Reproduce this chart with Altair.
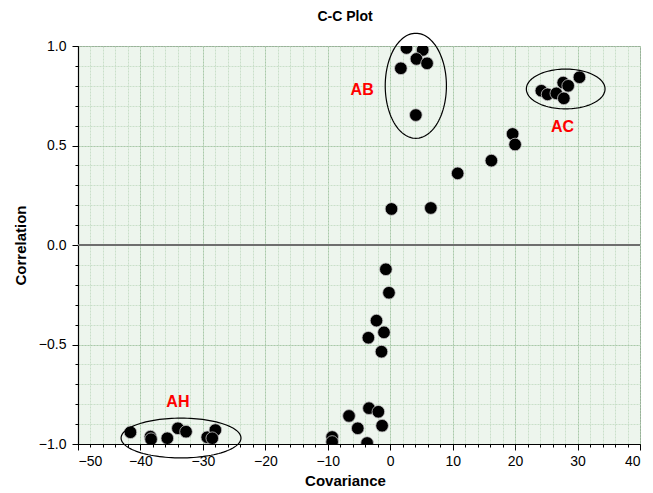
import altair as alt
import numpy as np
import pandas as pd

# ---- data ----
chart_title = ["C-C Plot"]
covariance = [2.6, 5.2, 4.2, 5.9, 1.7, 4.1,
              24.2, 25.2, 26.6, 27.8, 27.7, 28.5, 30.3,
              0.2, 6.5, 10.8, 16.2, 19.6, 20.0,
              -0.7, -0.2, -2.2, -1.0, -3.5, -1.4,
              -9.3, -9.3, -6.6, -5.2, -3.4, -1.9, -1.3, -3.7,
              -41.6, -38.4, -38.3, -35.7, -34.0, -32.7, -29.3, -28.0, -28.5]
correlation = [0.99, 0.98, 0.935, 0.913, 0.888, 0.653,
               0.775, 0.757, 0.762, 0.737, 0.816, 0.80, 0.843,
               0.181, 0.186, 0.36, 0.424, 0.558, 0.505,
               -0.122, -0.24, -0.38, -0.439, -0.466, -0.536,
               -0.965, -0.99, -0.859, -0.921, -0.82, -0.838, -0.908, -0.995,
               -0.941, -0.963, -0.976, -0.971, -0.921, -0.938, -0.966, -0.93, -0.971]

group_names = ["AB", "AC", "AH"]
group_cx = [4.1, 28.1, -33.5]
group_cy = [0.80, 0.784, -0.97]
group_rx = [4.9, 6.3, 9.6]
group_ry = [0.264, 0.10, 0.10]
label_x = [-4.5, 27.6, -34.0]
label_y = [0.78, 0.593, -0.79]

x_major = list(range(-50, 41, 10))
x_minor = list(range(-50, 41, 2))
y_major = [-1.0, -0.5, 0.0, 0.5, 1.0]
y_minor = [round(-1.0 + 0.1 * i, 1) for i in range(21)]

# ---- tables ----
pts = pd.DataFrame({"cov": covariance, "corr": correlation})
t = np.linspace(0, 2 * np.pi, 121)
ell_rows = []
for n, cx, cy, rx, ry in zip(group_names, group_cx, group_cy, group_rx, group_ry):
    for i, a in enumerate(t):
        ell_rows.append({"g": n, "i": i, "cov": cx + rx * np.cos(a), "corr": cy + ry * np.sin(a)})
ell = pd.DataFrame(ell_rows)
labels = pd.DataFrame({"name": group_names, "cov": label_x, "corr": label_y})
title_df = pd.DataFrame({"t": chart_title})

FONT = "Liberation Sans"
W, H = 562, 398
xscale = alt.Scale(domain=[-50, 40], nice=False, zero=False)
yscale = alt.Scale(domain=[-1, 1], nice=False, zero=False)

# minor grid + minor ticks
minor = alt.Chart(pts).mark_point(opacity=0).encode(
    x=alt.X("cov:Q", scale=xscale, axis=alt.Axis(
        orient="bottom", values=x_minor, labels=False, title=None, domain=False,
        tickSize=3, tickColor="#000000", grid=True, gridColor="#c9dfc9",
        gridDash=[2, 1], gridWidth=1)),
    y=alt.Y("corr:Q", scale=yscale, axis=alt.Axis(
        orient="left", values=y_minor, labels=False, title=None, domain=False,
        tickSize=3, tickColor="#000000", grid=True, gridColor="#c9dfc9",
        gridDash=[2, 1], gridWidth=1)),
)

# major grid, ticks, labels
major = alt.Chart(pts).mark_point(opacity=0).encode(
    x=alt.X("cov:Q", scale=xscale, axis=alt.Axis(
        orient="bottom", values=x_major, format="d", title="Covariance",
        domain=True, domainColor="#000000", domainWidth=1.2,
        tickSize=6, tickColor="#000000", labelPadding=4,
        labelFont=FONT, labelFontSize=14, labelColor="#000000",
        titleFont=FONT, titleFontSize=15, titleFontWeight="bold", titleColor="#000000",
        titlePadding=5, titleX=267,
        grid=True, gridColor="#a9c9a9", gridDash=[2, 1], gridWidth=1)),
    y=alt.Y("corr:Q", scale=yscale, axis=alt.Axis(
        orient="left", values=y_major, format=".1f", title="Correlation",
        domain=True, domainColor="#000000", domainWidth=1.2,
        tickSize=6, tickColor="#000000", labelPadding=6,
        labelFont=FONT, labelFontSize=14, labelColor="#000000",
        titleFont=FONT, titleFontSize=15, titleFontWeight="bold", titleColor="#000000",
        titlePadding=10,
        grid=True, gridColor="#a9c9a9", gridDash=[2, 1], gridWidth=1)),
)

zero_line = alt.Chart(pts).mark_rule(color="#6f6f6f", strokeWidth=1.2).encode(
    y=alt.YDatum(0, scale=yscale, axis=None)
)

dots = alt.Chart(pts).mark_circle(
    size=160, color="#000000", opacity=1, stroke="#c8c8c8", strokeWidth=0.8, clip=True
).encode(
    x=alt.X("cov:Q", scale=xscale, axis=None),
    y=alt.Y("corr:Q", scale=yscale, axis=None),
)

ellipses = alt.Chart(ell).mark_line(color="#000000", strokeWidth=1.2, clip=False).encode(
    x=alt.X("cov:Q", scale=xscale, axis=None),
    y=alt.Y("corr:Q", scale=yscale, axis=None),
    detail="g:N",
    order="i:Q",
)

texts = alt.Chart(labels).mark_text(
    color="#ff0000", font=FONT, fontSize=16, fontWeight="bold"
).encode(
    x=alt.X("cov:Q", scale=xscale, axis=None),
    y=alt.Y("corr:Q", scale=yscale, axis=None),
    text="name:N",
)

title_mark = alt.Chart(title_df).mark_text(
    font=FONT, fontSize=14, fontWeight="bold", color="#000000",
    baseline="middle", align="center", clip=False
).encode(
    x=alt.value(267), y=alt.value(-29), text="t:N"
)

chart = alt.layer(minor, major, zero_line, dots, ellipses, texts, title_mark).resolve_axis(
    x="independent", y="independent"
).properties(
    width=W,
    height=H,
    padding={"left": 70, "top": 38, "right": 5, "bottom": 46},
    autosize=alt.AutoSizeParams(type="none"),
).configure_view(
    fill="#edf5ed", stroke="#555555", strokeWidth=1
)

chart.save("out.html", embed_options={"renderer": "svg", "actions": False})
